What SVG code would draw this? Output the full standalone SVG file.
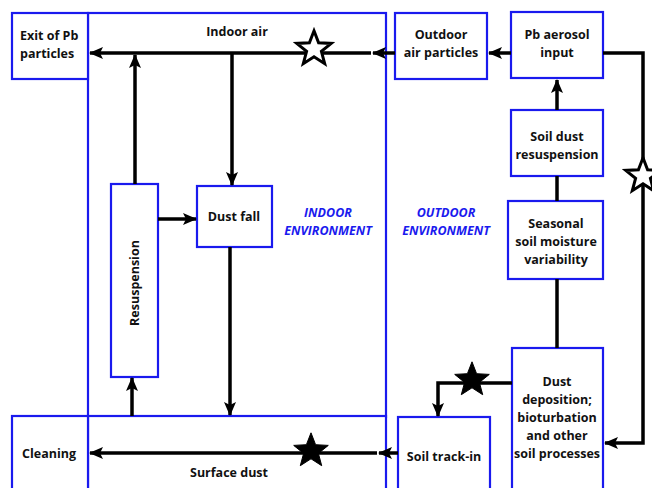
<svg xmlns="http://www.w3.org/2000/svg" width="652" height="488" viewBox="0 0 652 488">
<style>
.box{fill:#fff;stroke:#1a1aee;stroke-width:2.2}
.t{font-family:"Open Sans","Liberation Sans",sans-serif;font-weight:bold;font-size:12.5px;fill:#111;text-anchor:middle}
.env{font-family:"Open Sans","Liberation Sans",sans-serif;font-weight:bold;font-style:italic;font-size:12.5px;fill:#1a1aee;text-anchor:middle}
.c{fill:none;stroke:#000;stroke-width:3.5}
.a{marker-end:url(#ah)}
</style>
<defs>
<marker id="ah" markerUnits="userSpaceOnUse" markerWidth="14" markerHeight="14" viewBox="0 0 14 14" refX="13" refY="7" orient="auto">
<path d="M0,1 L14,7 L0,13 L3,7 Z" fill="#000"/>
</marker>
<path id="star" d="M0,-18.2 L4.6,-6.3 L17.3,-5.6 L7.4,2.4 L10.7,14.7 L0,7.8 L-10.7,14.7 L-7.4,2.4 L-17.3,-5.6 L-4.6,-6.3 Z"/>
</defs>
<g id="indoor-air"><rect class="box" x="88" y="13" width="298" height="404"/><text class="t" x="237" y="36">Indoor air</text></g>
<g id="surface-dust"><rect class="box" x="88" y="416" width="298" height="80"/><text class="t" x="229" y="477">Surface dust</text></g>
<g id="exit"><rect class="box" x="12" y="13" width="76" height="66"/><text class="t" x="20" y="40" style="text-anchor:start"><tspan x="20">Exit of Pb</tspan><tspan x="20" dy="18">particles</tspan></text></g>
<g id="cleaning"><rect class="box" x="12" y="416" width="76" height="80"/><text class="t" x="49" y="458">Cleaning</text></g>
<g id="resuspension"><rect class="box" x="111" y="184" width="47" height="193"/><text class="t" transform="translate(139,283) rotate(-90)" x="0" y="0">Resuspension</text></g>
<g id="dust-fall"><rect class="box" x="197" y="186" width="75" height="61"/><text class="t" x="234" y="221">Dust fall</text></g>
<g id="outdoor-air"><rect class="box" x="395" y="13" width="92" height="66"/><text class="t" x="441" y="39"><tspan x="441">Outdoor</tspan><tspan x="441" dy="18">air particles</tspan></text></g>
<g id="pb-aerosol"><rect class="box" x="511" y="12" width="92" height="66"/><text class="t" x="557" y="39"><tspan x="557">Pb aerosol</tspan><tspan x="557" dy="18">input</tspan></text></g>
<g id="soil-dust-resusp"><rect class="box" x="511" y="110" width="92" height="66"/><text class="t" x="557" y="141"><tspan x="557">Soil dust</tspan><tspan x="557" dy="18">resuspension</tspan></text></g>
<g id="seasonal"><rect class="box" x="508" y="201" width="95" height="78"/><text class="t" x="556" y="228"><tspan x="556">Seasonal</tspan><tspan x="556" dy="18">soil moisture</tspan><tspan x="556" dy="18">variability</tspan></text></g>
<g id="dust-deposition"><rect class="box" x="512" y="348" width="91" height="148"/><text class="t" x="557" y="386"><tspan x="557">Dust</tspan><tspan x="557" dy="18">deposition;</tspan><tspan x="557" dy="18">bioturbation</tspan><tspan x="557" dy="18">and other</tspan><tspan x="557" dy="18">soil processes</tspan></text></g>
<g id="soil-track-in"><rect class="box" x="398" y="417" width="92" height="80"/><text class="t" x="444" y="461">Soil track-in</text></g>
<g id="labels"><text class="env" x="328" y="217"><tspan x="328">INDOOR</tspan><tspan x="328" dy="18">ENVIRONMENT</tspan></text><text class="env" x="446" y="217"><tspan x="446">OUTDOOR</tspan><tspan x="446" dy="18">ENVIRONMENT</tspan></text></g>
<g id="connectors">
<path class="c a" d="M395,53 L373,53"/>
<path class="c a" d="M371,53 L90,53"/>
<path class="c a" d="M135,184 L135,55"/>
<path class="c a" d="M232,53 L232,185"/>
<path class="c a" d="M158,219 L196,219"/>
<path class="c a" d="M230,247 L230,415"/>
<path class="c a" d="M132,416 L132,378"/>
<path class="c a" d="M398,453 L379,453"/>
<path class="c a" d="M377,453 L90,453"/>
<path class="c a" d="M511,53 L489,53"/>
<path class="c a" d="M557,110 L557,80"/>
<path class="c" d="M557,176 L557,201"/>
<path class="c" d="M557,279 L557,348"/>
<path class="c a" d="M603,53 L643,53 L643,443 L605,443"/>
<path class="c a" d="M512,383 L438,383 L438,416"/>
<use href="#star" x="314" y="49" fill="#fff" stroke="#000" stroke-width="3"/>
<use href="#star" x="311" y="451" fill="#000" stroke="#000" stroke-width="1"/>
<use href="#star" x="472" y="380" fill="#000" stroke="#000" stroke-width="1"/>
<use href="#star" x="643" y="176" fill="#fff" stroke="#000" stroke-width="3"/>
</g>
</svg>
